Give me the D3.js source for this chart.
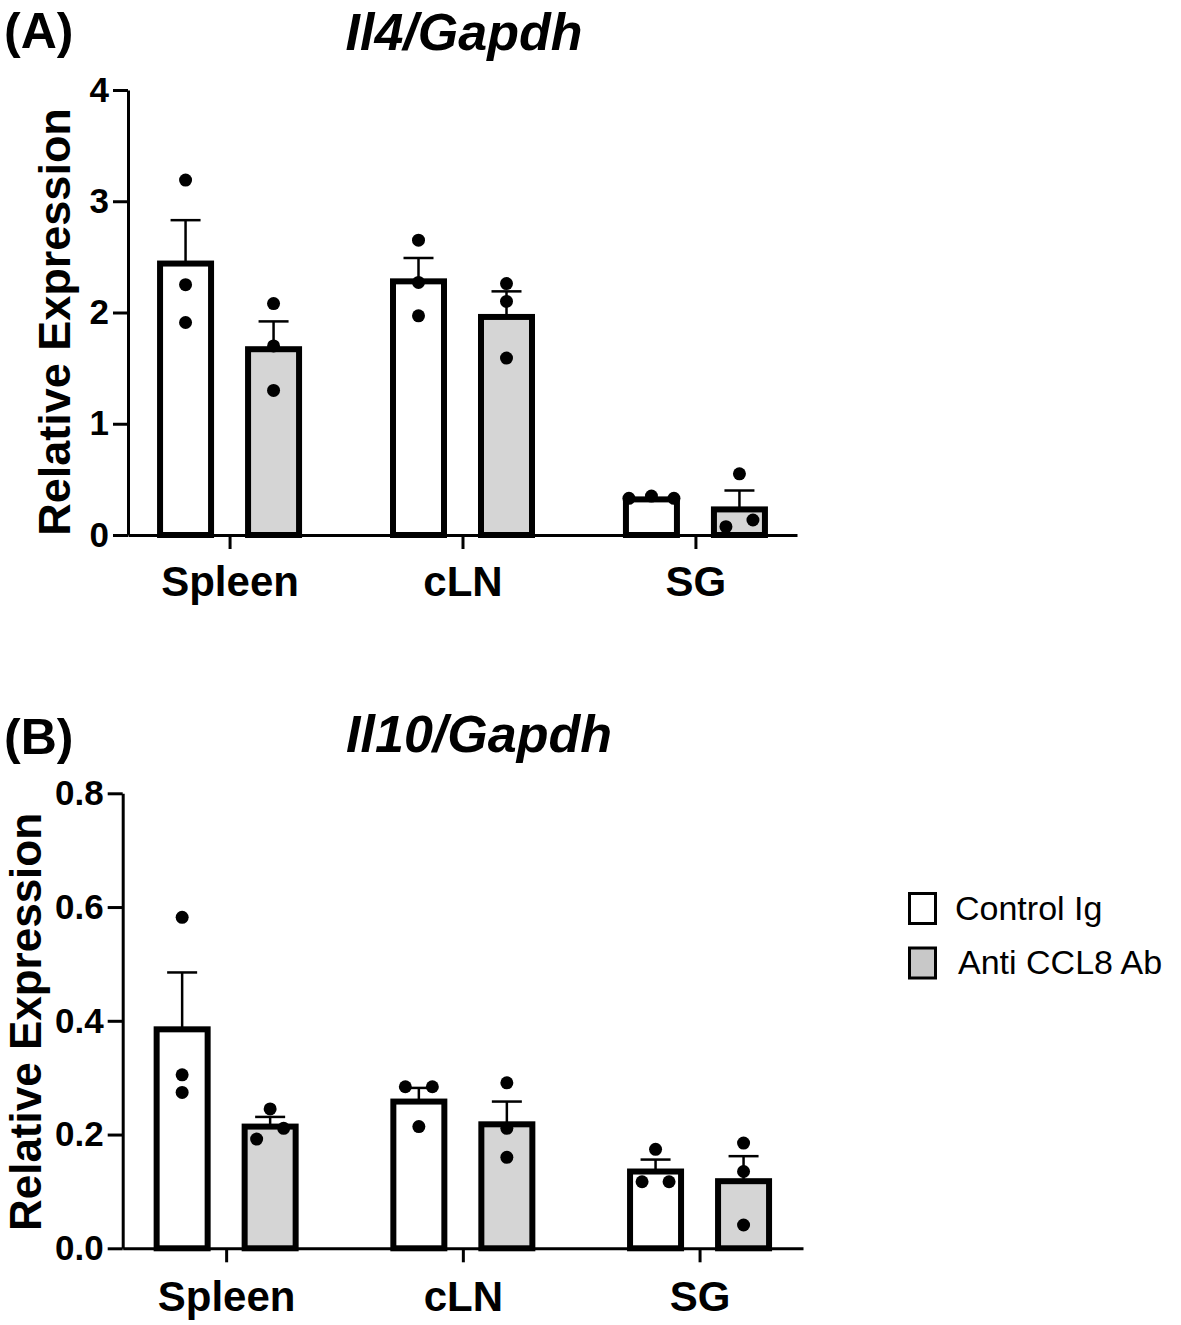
<!DOCTYPE html>
<html><head><meta charset="utf-8">
<script src="https://cdn.jsdelivr.net/npm/d3@7"></script>
<style>
html,body{margin:0;padding:0;background:#fff;}
svg text{font-family:"Liberation Sans",Arial,Helvetica,sans-serif;}
</style>
</head><body>
<svg id="chart" width="1181" height="1325"></svg>
<script>
// ---------------- DATA ----------------
const categories = ["Spleen", "cLN", "SG"];
const groups = ["Control Ig", "Anti CCL8 Ab"];

// Panel A: Il4/Gapdh
const il4Ticks = [0, 1, 2, 3, 4];
const il4ControlMean = [2.44, 2.28, 0.32];
const il4ControlSem  = [0.39, 0.21, 0.01];
const il4AntiMean    = [1.67, 1.96, 0.23];
const il4AntiSem     = [0.25, 0.23, 0.17];
const il4ControlPoints = [[3.19, 2.25, 1.91], [2.65, 2.27, 1.97], [0.33, 0.35, 0.33]];
const il4AntiPoints    = [[2.08, 1.70, 1.30], [2.26, 2.10, 1.59], [0.55, 0.075, 0.135]];

// Panel B: Il10/Gapdh
const il10Ticks = [0, 0.2, 0.4, 0.6, 0.8];
const il10ControlMean = [0.385, 0.258, 0.135];
const il10ControlSem  = [0.100, 0.024, 0.021];
const il10AntiMean    = [0.214, 0.218, 0.118];
const il10AntiSem     = [0.017, 0.040, 0.044];
const il10ControlPoints = [[0.582, 0.305, 0.274], [0.284, 0.284, 0.214], [0.174, 0.117, 0.117]];
const il10AntiPoints    = [[0.245, 0.192, 0.211], [0.291, 0.211, 0.160], [0.185, 0.135, 0.041]];

// ---------------- DRAW ----------------
const svg = d3.select("#chart");
const FONT = '"Liberation Sans", Arial, Helvetica, sans-serif';
const fills = {"Control Ig": "#ffffff", "Anti CCL8 Ab": "#d5d5d5"};

function drawPanel(p) {
  const g = svg.append("g");
  const y = d3.scaleLinear().domain([p.ticks[0], p.ticks[p.ticks.length - 1]]).range([p.y0, p.y1]);
  const x = d3.scalePoint().domain(categories).range([p.xL, p.xR]).padding(p.pad);
  const sub = d3.scalePoint().domain(groups).range([-44, 44]);
  const barW = 51, r = 6.5;

  // axes
  const ya = g.append("g").attr("transform", `translate(${p.xL},0)`)
    .call(d3.axisLeft(y).tickValues(p.ticks).tickFormat(p.fmt).tickSize(15).tickSizeOuter(0).tickPadding(4));
  ya.selectAll("path,line").attr("stroke", "#000").attr("stroke-width", 3);
  ya.selectAll("text").attr("font-size", p.tickFont).attr("font-weight", "bold").attr("fill", "#000").attr("font-family", FONT);

  const xa = g.append("g").attr("transform", `translate(0,${p.y0})`)
    .call(d3.axisBottom(x).tickSize(14).tickSizeOuter(0).tickPadding(p.xPad));
  xa.selectAll("path,line").attr("stroke", "#000").attr("stroke-width", 3);
  xa.selectAll("text").attr("font-size", 42).attr("font-weight", "bold").attr("fill", "#000").attr("font-family", FONT);

  const series = [
    {grp: groups[0], mean: p.cMean, sem: p.cSem, pts: p.cPts},
    {grp: groups[1], mean: p.aMean, sem: p.aSem, pts: p.aPts}
  ];
  series.forEach(s => {
    categories.forEach((c, i) => {
      const cx = x(c) + sub(s.grp);
      const top = y(s.mean[i]);
      const et = y(s.mean[i] + s.sem[i]);
      // error bar (upper SEM)
      g.append("line").attr("x1", cx).attr("x2", cx).attr("y1", top).attr("y2", et)
        .attr("stroke", "#000").attr("stroke-width", 2.5);
      g.append("line").attr("x1", cx - 15).attr("x2", cx + 15).attr("y1", et).attr("y2", et)
        .attr("stroke", "#000").attr("stroke-width", 2.5);
      // bar
      g.append("rect").attr("x", cx - barW / 2).attr("y", top).attr("width", barW)
        .attr("height", y(0) - top).attr("fill", fills[s.grp]).attr("stroke", "#000").attr("stroke-width", 6);
    });
  });
  // points (simple row-based scatter to avoid overlap)
  series.forEach(s => {
    categories.forEach((c, i) => {
      const cx = x(c) + sub(s.grp);
      const pts = s.pts[i].map((v, k) => ({v, k, py: y(v)}));
      const sorted = pts.slice().sort((a, b) => a.py - b.py);
      const rows = [];
      sorted.forEach(pt => {
        const last = rows[rows.length - 1];
        if (last && Math.abs(pt.py - last[last.length - 1].py) < 2 * r) last.push(pt);
        else rows.push([pt]);
      });
      rows.forEach(row => {
        row.sort((a, b) => a.k - b.k);
        const n = row.length;
        const sp = n > 1 ? Math.min(27, (barW - 6) / (n - 1)) : 0;
        row.forEach((pt, j) => {
          g.append("circle").attr("cx", cx + (j - (n - 1) / 2) * sp).attr("cy", pt.py)
            .attr("r", r).attr("fill", "#000");
        });
      });
    });
  });

  // y label
  g.append("text").attr("transform", `translate(${p.ylx},${p.yly}) rotate(-90)`)
    .attr("text-anchor", "middle").attr("font-size", p.ylFont).attr("font-weight", "bold")
    .attr("font-family", FONT).text("Relative Expression");
  // panel letter
  g.append("text").attr("x", 4).attr("y", p.letterY).attr("font-size", 50).attr("font-weight", "bold")
    .attr("font-family", FONT).text(p.letter);
  // title
  g.append("text").attr("x", p.titleX).attr("y", p.titleY).attr("text-anchor", "middle")
    .attr("font-size", 52).attr("font-weight", "bold").attr("font-style", "italic")
    .attr("font-family", FONT).text(p.title);
}

drawPanel({
  ticks: il4Ticks, fmt: d3.format("d"), y0: 535, y1: 90, xL: 128, xR: 797, pad: 0.436,
  tickFont: 35, xPad: 17,
  cMean: il4ControlMean, cSem: il4ControlSem, cPts: il4ControlPoints,
  aMean: il4AntiMean, aSem: il4AntiSem, aPts: il4AntiPoints,
  ylx: 70, yly: 322, ylFont: 45, letter: "(A)", letterY: 48, title: "Il4/Gapdh", titleX: 464, titleY: 50
});
drawPanel({
  ticks: il10Ticks, fmt: d3.format(".1f"), y0: 1248.3, y1: 793.3, xL: 122.7, xR: 803, pad: 0.437,
  tickFont: 35, xPad: 19,
  cMean: il10ControlMean, cSem: il10ControlSem, cPts: il10ControlPoints,
  aMean: il10AntiMean, aSem: il10AntiSem, aPts: il10AntiPoints,
  ylx: 41, yly: 1022, ylFont: 44, letter: "(B)", letterY: 754, title: "Il10/Gapdh", titleX: 479, titleY: 752
});

// legend
const legend = svg.append("g");
const legendFills = {"Control Ig": "#ffffff", "Anti CCL8 Ab": "#c8c8c8"};
groups.forEach((gname, i) => {
  const ly = 893.5 + i * 54.5;
  legend.append("rect").attr("x", 909.5).attr("y", ly).attr("width", 26).attr("height", 30)
    .attr("fill", legendFills[gname]).attr("stroke", "#000").attr("stroke-width", 3);
  legend.append("text").attr("x", 955 + i * 3).attr("y", ly + 26).attr("font-size", 34)
    .attr("font-family", FONT).text(gname);
});
</script>
</body></html>
